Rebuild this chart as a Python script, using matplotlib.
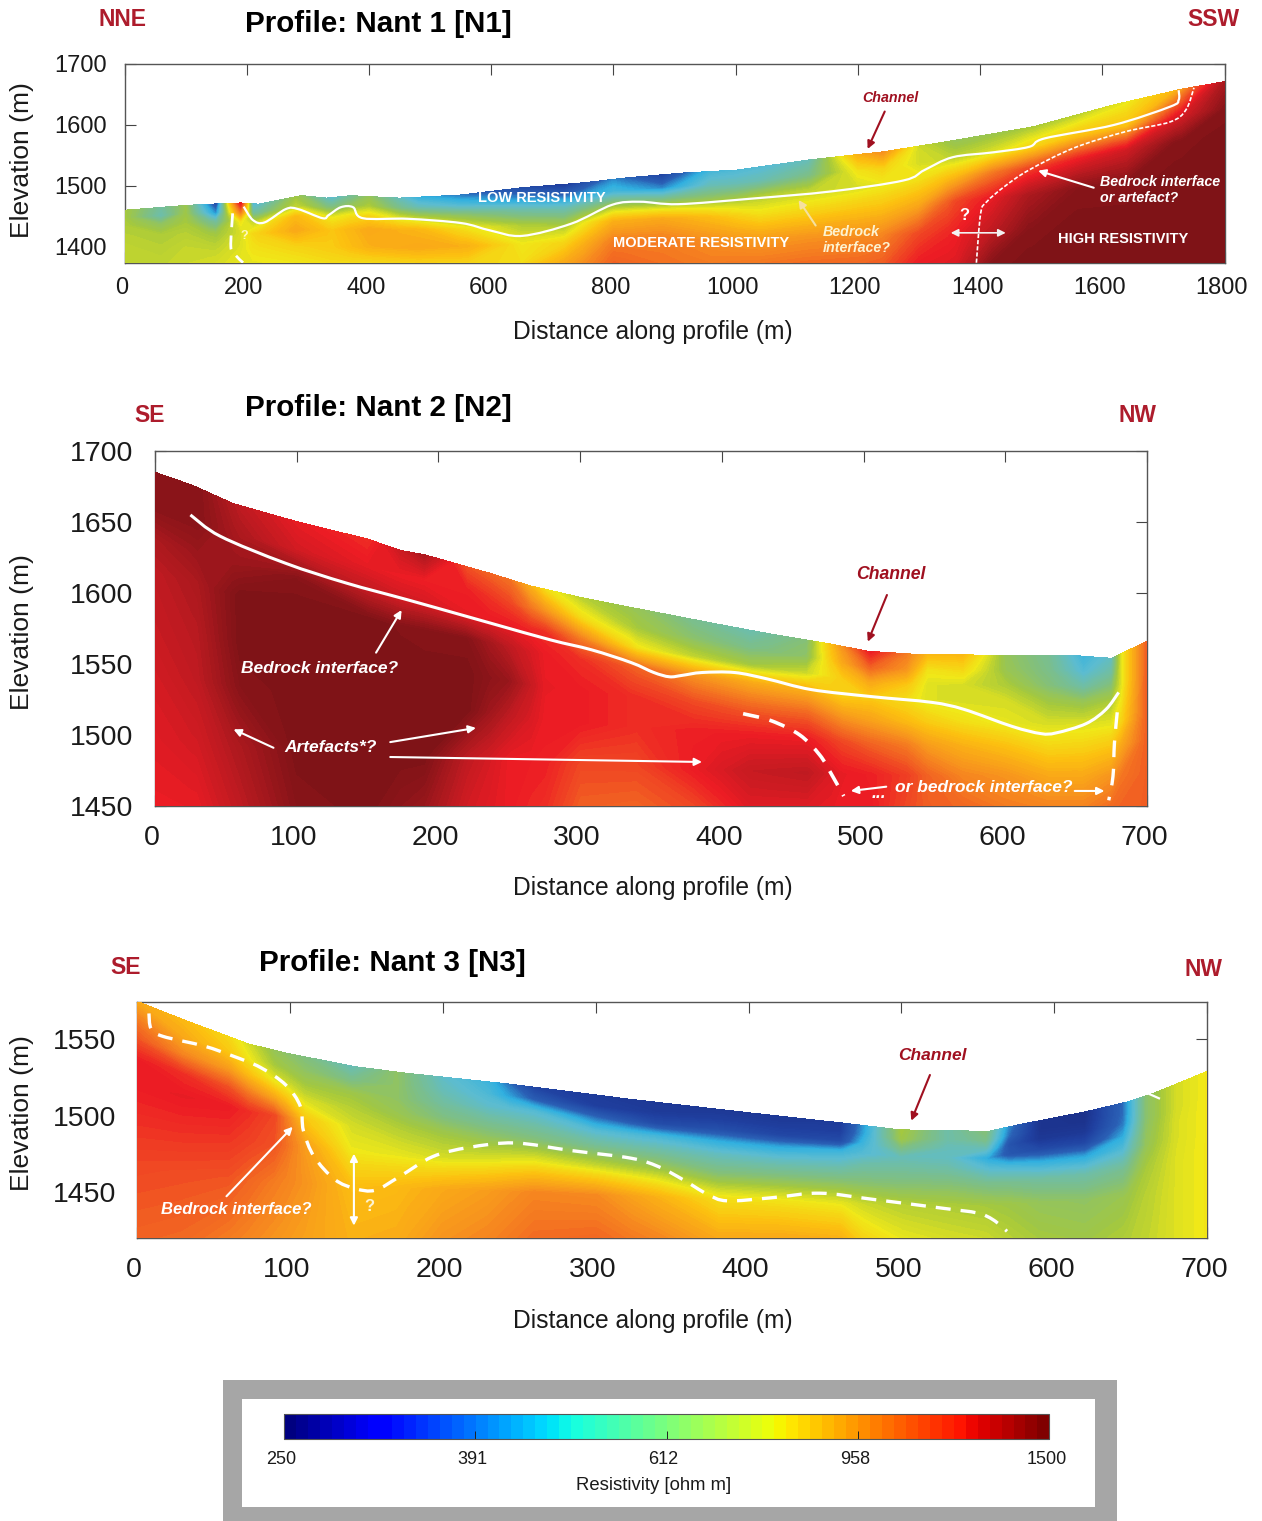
import numpy as np
import matplotlib
matplotlib.use("Agg")
import matplotlib.pyplot as plt
from matplotlib.colors import LinearSegmentedColormap, LogNorm
from matplotlib.cm import ScalarMappable
from matplotlib.patches import PathPatch
from matplotlib.path import Path
from matplotlib.transforms import ScaledTranslation

plt.rcParams['font.family'] = ['Liberation Sans', 'DejaVu Sans']

FIG_W, FIG_H = 1262, 1521
DPI = 100

# Resistivity (ohm m) per column, from the ground surface (first value) down to the section floor
n1_x = [0, 60, 100, 150, 190, 210, 280, 340, 400, 480, 560, 650, 720, 800, 880, 960, 1040, 1120,
        1200, 1240, 1300, 1360, 1420, 1480, 1560, 1640, 1720, 1800]
n1_rows = [0, .15, .3, .5, .75, 1]
n1_res = [
    [680, 680, 690, 700, 710, 710],
    [570, 550, 640, 690, 700, 710],
    [660, 670, 680, 700, 715, 720],
    [340, 420, 570, 670, 710, 730],
    [1200, 1000, 770, 730, 740, 750],
    [490, 570, 700, 790, 770, 750],
    [670, 710, 860, 900, 800, 760],
    [510, 610, 750, 830, 820, 780],
    [650, 690, 800, 900, 880, 780],
    [460, 540, 690, 870, 900, 800],
    [400, 490, 630, 770, 880, 800],
    [340, 430, 560, 690, 760, 780],
    [300, 400, 540, 670, 800, 900],
    [420, 480, 650, 880, 1000, 1050],
    [320, 420, 630, 900, 1000, 1020],
    [480, 540, 650, 850, 960, 1000],
    [500, 550, 690, 780, 930, 1010],
    [540, 600, 710, 800, 950, 1030],
    [880, 770, 730, 830, 960, 1040],
    [960, 800, 750, 840, 980, 1060],
    [720, 730, 780, 900, 1100, 1190],
    [650, 710, 860, 1100, 1180, 1220],
    [660, 740, 1000, 1200, 1300, 1450],
    [680, 800, 1100, 1350, 1450, 1480],
    [700, 850, 1180, 1450, 1480, 1480],
    [750, 840, 1250, 1450, 1480, 1480],
    [870, 1200, 1450, 1480, 1480, 1480],
    [1350, 1450, 1480, 1480, 1480, 1480],
]
n1_surf_x = [0, 100, 140, 190, 220, 290, 330, 370, 450, 550, 650, 750, 820, 912, 1002, 1123, 1242,
             1348, 1487, 1619, 1731, 1800]
n1_surf_e = [1460, 1468, 1470, 1472, 1470, 1484, 1480, 1484, 1480, 1485, 1497, 1505, 1513, 1521,
             1526, 1543, 1556, 1573, 1597, 1633, 1659, 1671]
n1_line_x = [195, 210, 229, 264, 284, 324, 334, 354, 374, 390, 464, 551, 598, 651, 731, 798, 843,
             906, 1025, 1157, 1275, 1309, 1355, 1421, 1480, 1506, 1619, 1711, 1725, 1725]
n1_line_e = [1466, 1444, 1440, 1462, 1462, 1447, 1452, 1465, 1465, 1447, 1446, 1439, 1427, 1418,
             1438, 1469, 1474, 1470, 1479, 1491, 1509, 1526, 1547, 1555, 1564, 1578, 1600, 1630,
             1641, 1657]
n1_dash_x = [1394, 1401, 1411, 1440, 1480, 1553, 1638, 1711, 1737, 1750]
n1_dash_e = [1374, 1455, 1474, 1499, 1526, 1562, 1589, 1605, 1625, 1661]
n1_left_x = [177, 174, 181, 194]
n1_left_e = [1455, 1400, 1387, 1374]

n2_x = [0, 30, 60, 100, 150, 190, 220, 250, 275, 300, 340, 380, 420, 460, 485, 505, 530, 545, 570,
        600, 630, 655, 675, 682, 700]
n2_rows = [0, .1, .2, .3, .45, .6, .8, 1]
n2_res = [
    [1450, 1450, 1350, 1300, 1280, 1250, 1220, 1190],
    [1450, 1450, 1400, 1350, 1320, 1300, 1250, 1200],
    [1300, 1350, 1400, 1480, 1480, 1450, 1350, 1300],
    [1200, 1250, 1450, 1480, 1480, 1480, 1480, 1450],
    [1150, 1200, 1300, 1480, 1480, 1480, 1480, 1480],
    [1350, 1180, 1250, 1450, 1480, 1480, 1480, 1400],
    [1080, 1180, 1200, 1450, 1480, 1480, 1300, 1250],
    [1020, 1100, 1190, 1300, 1400, 1300, 1190, 1190],
    [780, 950, 1150, 1190, 1200, 1190, 1180, 1150],
    [700, 790, 1000, 1150, 1190, 1190, 1100, 1060],
    [650, 680, 770, 1050, 1150, 1150, 1100, 1050],
    [590, 630, 710, 950, 1100, 1180, 1190, 1100],
    [550, 600, 680, 900, 1060, 1190, 1280, 1220],
    [620, 640, 720, 880, 1050, 1190, 1300, 1220],
    [950, 900, 820, 800, 950, 1100, 1200, 1190],
    [1190, 1050, 900, 820, 920, 1050, 1180, 1190],
    [1000, 950, 830, 780, 860, 1000, 1120, 1100],
    [860, 770, 740, 740, 820, 930, 1050, 1060],
    [860, 790, 730, 730, 780, 880, 980, 1040],
    [650, 660, 690, 730, 750, 840, 950, 1000],
    [590, 600, 620, 670, 730, 790, 900, 980],
    [470, 500, 560, 650, 735, 800, 900, 980],
    [530, 570, 630, 690, 750, 830, 950, 1030],
    [740, 740, 740, 760, 800, 900, 1010, 1050],
    [1060, 1060, 1060, 1060, 1060, 1060, 1060, 1060],
]
n2_surf_x = [0, 26, 55, 101, 150, 173, 190, 236, 265, 300, 335, 400, 435, 477, 503, 534, 600, 648,
             675, 700]
n2_surf_e = [1685, 1676, 1663, 1650, 1638, 1630, 1627, 1614, 1605, 1597, 1590, 1577.5, 1571, 1564,
             1559, 1557, 1556, 1556, 1554, 1566]
n2_line_x = [25, 46, 92, 135, 179, 236, 279, 308, 336, 352, 363, 372, 386, 409, 432, 463, 506, 548,
             571, 605, 625, 636, 657, 671, 680]
n2_line_e = [1655, 1640, 1621, 1607, 1595, 1579, 1567, 1560, 1551, 1544, 1541, 1542, 1544, 1544,
             1539.5, 1532, 1527, 1523, 1518, 1506, 1501, 1501.5, 1508, 1518, 1530]
n2_dash_x = [415, 435, 455, 469, 477, 486]
n2_dash_e = [1515, 1510, 1500, 1486, 1473, 1457]
n2_right_x = [679, 677, 676, 673]
n2_right_e = [1516, 1494, 1471, 1454]

n3_x = [0, 30, 60, 90, 110, 140, 170, 200, 230, 260, 300, 340, 380, 420, 460, 475, 500, 530, 555,
        570, 590, 620, 645, 660, 680, 700]
n3_rows = [0, .08, .16, .25, .35, .5, .7, 1]
n3_res = [
    [900, 1000, 1080, 1190, 1190, 1150, 1100, 1050],
    [860, 900, 980, 1150, 1200, 1150, 1090, 1040],
    [790, 830, 930, 1080, 1190, 1140, 1080, 1000],
    [650, 680, 750, 900, 1100, 1080, 1000, 950],
    [610, 640, 680, 740, 830, 930, 950, 920],
    [540, 600, 670, 700, 730, 760, 850, 880],
    [640, 640, 640, 660, 700, 750, 860, 890],
    [520, 540, 570, 610, 670, 730, 900, 950],
    [470, 490, 520, 580, 640, 740, 930, 980],
    [320, 380, 500, 560, 620, 760, 980, 1030],
    [300, 310, 400, 500, 580, 720, 970, 1040],
    [290, 300, 340, 480, 560, 680, 880, 980],
    [290, 310, 350, 450, 530, 620, 780, 900],
    [290, 305, 330, 440, 520, 620, 770, 900],
    [300, 310, 340, 470, 530, 620, 750, 880],
    [430, 440, 470, 500, 560, 620, 720, 800],
    [680, 670, 610, 540, 570, 620, 700, 750],
    [560, 560, 540, 530, 560, 620, 690, 730],
    [620, 600, 540, 450, 510, 600, 680, 720],
    [420, 400, 360, 370, 480, 590, 670, 700],
    [280, 280, 290, 340, 450, 570, 650, 680],
    [270, 275, 290, 330, 440, 560, 640, 670],
    [400, 400, 410, 450, 500, 590, 660, 690],
    [630, 630, 630, 640, 650, 680, 700, 710],
    [730, 730, 730, 735, 735, 740, 740, 740],
    [765, 765, 765, 765, 765, 765, 765, 765],
]
n3_surf_x = [0, 31, 73, 97.5, 143, 177.6, 244, 323, 402, 462, 499, 557, 577, 620.6, 648, 665, 700]
n3_surf_e = [1575, 1562.7, 1547, 1541, 1532, 1527.6, 1520.6, 1510.6, 1501.6, 1495, 1490.6, 1489.6,
             1494, 1502.5, 1509, 1514.6, 1529]
n3_dash_x = [8, 9.4, 17, 44, 63, 81, 97.5, 107, 109, 116, 129.5, 143, 156, 172, 193.5, 217, 247,
             284, 323, 341, 357, 373, 386, 415, 446.6, 481, 528, 549.6, 560, 569]
n3_dash_e = [1567, 1557, 1552, 1545.6, 1539, 1531.5, 1520, 1506, 1490, 1473, 1458, 1452, 1451, 1460,
             1473, 1479, 1482, 1477, 1472, 1466.5, 1458, 1448.4, 1444, 1446, 1449, 1445, 1439, 1436,
             1431.5, 1424]
n3_tail_x = [660, 669]
n3_tail_e = [1515, 1511]

bar_ticks = [250, 391, 612, 958, 1500]

# Muted print colours of the sections; the legend strip keeps plain jet
section_cmap = LinearSegmentedColormap.from_list("section", [
    (0.00, "#1a2a80"), (0.12, "#1f3f9f"), (0.25, "#2a60b5"), (0.33, "#30b0e0"),
    (0.40, "#5cbcd0"), (0.50, "#80bf80"), (0.56, "#a5c83c"), (0.62, "#f0e818"),
    (0.68, "#fcc010"), (0.75, "#f7921e"), (0.80, "#f26522"), (0.87, "#ed1c24"),
    (0.93, "#b81a20"), (1.00, "#781216")])
norm = LogNorm(250, 1500)
levels = np.geomspace(250, 1500, 160)
RED = "#ad1c2c"
DARK_RED = "#a01020"

fig = plt.figure(figsize=(FIG_W / DPI, FIG_H / DPI), dpi=DPI, facecolor="white")


def axes_px(left, top, right, bottom, **kwargs):
    return fig.add_axes([left / FIG_W, 1 - bottom / FIG_H, (right - left) / FIG_W, (bottom - top) / FIG_H], **kwargs)


def text_px(x, y, s, **kwargs):
    kwargs.setdefault("ha", "center")
    kwargs.setdefault("va", "center")
    fig.text(x / FIG_W, 1 - y / FIG_H, s, **kwargs)


def section(box, xlim, ylim, xticks, yticks, size, pads, cols, rows, res, surf_x, surf_e):
    ax = axes_px(*box)
    ax.set_xlim(*xlim)
    ax.set_ylim(*ylim)

    # Columns follow the ground surface, rows are fractions of the way down to the floor
    mesh_x = np.union1d(cols, surf_x)
    top = np.interp(mesh_x, surf_x, surf_e)
    res = np.array(res, dtype=float)
    z = np.array([np.interp(mesh_x, cols, res[:, i]) for i in range(len(rows))])
    x_grid = np.tile(mesh_x, (len(rows), 1))
    y_grid = np.array([top - f * (top - ylim[0]) for f in rows])
    ax.contourf(x_grid, y_grid, z, levels=levels, cmap=section_cmap, norm=norm, extend="both", zorder=3)

    for side in ax.spines.values():
        side.set_color("#555555")
        side.set_linewidth(1)
    ax.set_xticks(xticks)
    ax.set_yticks(yticks)
    ax.tick_params(axis="both", direction="in", length=8, width=0.8, color="#444444",
                   top=True, right=True, labelsize=size, labelcolor="#1a1a1a")
    ax.tick_params(axis="x", pad=pads[0])
    ax.tick_params(axis="y", pad=pads[1])
    shift = ScaledTranslation(-3 / DPI, 0, fig.dpi_scale_trans)
    for label in ax.get_xticklabels():
        label.set_transform(label.get_transform() + shift)
    return ax


def curve(ax, x, y, lw, dashes=None):
    # Rounded line through the traced points (Catmull-Rom handles as bezier segments)
    pts = np.column_stack([x, y]).astype(float)
    verts = [pts[0]]
    codes = [Path.MOVETO]
    for i in range(len(pts) - 1):
        before = pts[max(i - 1, 0)]
        after = pts[min(i + 2, len(pts) - 1)]
        verts += [pts[i] + (pts[i + 1] - before) / 6, pts[i + 1] - (after - pts[i]) / 6, pts[i + 1]]
        codes += [Path.CURVE4] * 3
    style = "-" if dashes is None else (0, dashes)
    ax.add_patch(PathPatch(Path(verts, codes), fill=False, edgecolor="white", lw=lw, linestyle=style,
                           capstyle="butt", zorder=5))


def note(ax, x, y, s, size, color="white", style="italic", **kwargs):
    ax.text(x, y, s, fontsize=size, color=color, fontweight="bold", fontstyle=style,
            ha=kwargs.pop("ha", "center"), va="center", zorder=6, **kwargs)


def arrow(ax, start, end, color="white", lw=1.5, style="-|>"):
    ax.annotate("", xy=end, xytext=start, zorder=6,
                arrowprops=dict(arrowstyle=style, color=color, lw=lw, mutation_scale=11,
                                shrinkA=0, shrinkB=0))


# Profile 1
ax1 = section((124.5, 64, 1224.5, 263.3), (0, 1800), (1373, 1700), range(0, 1801, 200),
              [1400, 1500, 1600, 1700], 17, (10, 13), n1_x, n1_rows, n1_res, n1_surf_x, n1_surf_e)
curve(ax1, n1_line_x, n1_line_e, 1.6)
curve(ax1, n1_dash_x, n1_dash_e, 1.2, (2.5, 1.2))
curve(ax1, n1_left_x, n1_left_e, 2, (5, 3))
note(ax1, 683, 1480, "LOW RESISTIVITY", 10.5, style="normal")
note(ax1, 943, 1406.6, "MODERATE RESISTIVITY", 10.5, style="normal")
note(ax1, 1634, 1413, "HIGH RESISTIVITY", 10.5, style="normal")
note(ax1, 1143, 1411, "Bedrock\ninterface?", 10.3, color="#fdf3d0", ha="left")
note(ax1, 1596, 1493, "Bedrock interface\nor artefact?", 10.3, ha="left")
note(ax1, 1253, 1644, "Channel", 10.3, color=DARK_RED)
note(ax1, 1375, 1452, "?", 12, style="normal")
note(ax1, 196, 1418, "?", 9, color="#fff8c0", style="normal")
arrow(ax1, (1244, 1622), (1216, 1560.6), color=DARK_RED)
arrow(ax1, (1586, 1497), (1495, 1525))
arrow(ax1, (1131, 1435), (1103, 1477), color="#f5e0a0")
arrow(ax1, (1352, 1423), (1442, 1423), color="#f2f2f2", lw=1.2, style="<|-|>")

# Profile 2
ax2 = section((155, 451, 1147, 806), (0, 700), (1450, 1700), range(0, 701, 100),
              [1450, 1500, 1550, 1600, 1650, 1700], 20.5, (14, 16), n2_x, n2_rows, n2_res, n2_surf_x, n2_surf_e)
curve(ax2, n2_line_x, n2_line_e, 2.2)
curve(ax2, n2_dash_x, n2_dash_e, 2.6, (4.5, 3))
curve(ax2, n2_right_x, n2_right_e, 2.4, (5, 3.5))
note(ax2, 519, 1613, "Channel", 12.7, color=DARK_RED)
note(ax2, 116, 1547, "Bedrock interface?", 12.5)
note(ax2, 124, 1491, "Artefacts*?", 12.5)
note(ax2, 585, 1463, "or bedrock interface?", 12.5)
note(ax2, 511, 1459, "...", 12.5)
arrow(ax2, (516.5, 1598.6), (503, 1565.7), color=DARK_RED)
arrow(ax2, (156, 1558), (174, 1588))
arrow(ax2, (83.6, 1491), (55.4, 1504))
arrow(ax2, (166, 1495), (226.5, 1505))
arrow(ax2, (166, 1484.5), (386, 1481))
arrow(ax2, (516, 1463.6), (491, 1460.6))
arrow(ax2, (649, 1460.6), (670, 1460.6))

# Profile 3
ax3 = section((136.7, 1001.7, 1207.4, 1238), (0, 700), (1419.6, 1574.7), range(0, 701, 100),
              [1450, 1500, 1550], 20.5, (14, 15), n3_x, n3_rows, n3_res, n3_surf_x, n3_surf_e)
curve(ax3, n3_dash_x, n3_dash_e, 2.4, (4.5, 3))
curve(ax3, n3_tail_x, n3_tail_e, 1.6)
note(ax3, 520, 1539.7, "Channel", 12.5, color=DARK_RED)
note(ax3, 65, 1438.6, "Bedrock interface?", 12)
note(ax3, 152, 1440, "?", 12, style="normal", color="#fdf3d0")
arrow(ax3, (518.6, 1526.6), (506.4, 1496.6), color=DARK_RED)
arrow(ax3, (58.7, 1447), (102, 1492.6))
arrow(ax3, (142, 1475), (142, 1427.7), style="<|-|>")

# Titles, compass labels and axis names sit in picture positions
for x, y, s in [(378.5, 23.5, "Profile: Nant 1 [N1]"), (378.5, 408.5, "Profile: Nant 2 [N2]"),
                (392, 962.5, "Profile: Nant 3 [N3]")]:
    text_px(x, y, s, fontsize=21.3, fontweight="bold", color="black")
for x, y, s in [(122.5, 19, "NNE"), (1213.5, 19, "SSW"), (150, 415, "SE"), (1138, 415, "NW"),
                (125.5, 968, "SE"), (1203, 970, "NW")]:
    text_px(x, y, s, fontsize=16.5, fontweight="bold", color=RED)
for y in [160, 631.7, 1113]:
    text_px(22, y, "Elevation (m)", fontsize=19, rotation=90, color="#1a1a1a")
for y in [332, 888, 1321]:
    text_px(653, y, "Distance along profile (m)", fontsize=17.7, color="#1a1a1a")

# Legend box with the colour strip
frame = axes_px(223, 1379.5, 1116.5, 1521, facecolor="#a6a6a6", xticks=[], yticks=[])
inner = axes_px(241.8, 1399.3, 1095.4, 1507.3, facecolor="white", xticks=[], yticks=[])
for box in (frame, inner):
    for side in box.spines.values():
        side.set_visible(False)
cax = axes_px(284.3, 1414, 1049.4, 1439)
bar = fig.colorbar(ScalarMappable(norm=norm, cmap=plt.get_cmap("jet", 64)), cax=cax, orientation="horizontal")
bar.outline.set_edgecolor("#555555")
bar.outline.set_linewidth(0.8)
bar.set_ticks(bar_ticks)
bar.set_ticklabels([str(v) for v in bar_ticks])
bar.minorticks_off()
cax.tick_params(axis="x", direction="in", length=6, width=0.7, color="#222222", labelsize=13,
                pad=9, labelcolor="#1a1a1a")
shift = ScaledTranslation(-3 / DPI, 0, fig.dpi_scale_trans)
for label in cax.get_xticklabels():
    label.set_transform(label.get_transform() + shift)
text_px(653.4, 1485, "Resistivity [ohm m]", fontsize=13.3, color="#1a1a1a")

fig.savefig("out.png", dpi=DPI)
